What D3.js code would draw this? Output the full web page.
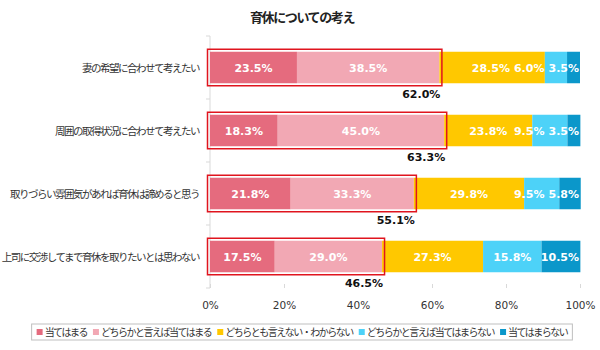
<!DOCTYPE html>
<html>
<head>
<meta charset="utf-8">
<script src="https://cdn.jsdelivr.net/npm/d3@7"></script>
<style>
  body { margin: 0; background: #fff; }
  svg { display: block; }
  .jp { font-family: "Noto Sans CJK JP", sans-serif; }
  .num { font-family: "DejaVu Sans", Verdana, sans-serif; }
</style>
</head>
<body>
<div id="chart"></div>
<script>
// Survey answers, % per statement
const categories = [
  '妻の希望に合わせて考えたい',
  '周囲の取得状況に合わせて考えたい',
  '取りづらい雰囲気があれば育休は諦めると思う',
  '上司に交渉してまで育休を取りたいとは思わない'
];
const seriesNames = [
  '当てはまる',
  'どちらかと言えば当てはまる',
  'どちらとも言えない・わからない',
  'どちらかと言えば当てはまらない',
  '当てはまらない'
];
const values = [
  [23.5, 38.5, 28.5, 6.0, 3.5],
  [18.3, 45.0, 23.8, 9.5, 3.5],
  [21.8, 33.3, 29.8, 9.5, 5.8],
  [17.5, 29.0, 27.3, 15.8, 10.5]
];
const topTwo = [62.0, 63.3, 55.1, 46.5];
const ticks = [0, 20, 40, 60, 80, 100];
const colors = ['#e56b7e', '#f2a8b4', '#ffc800', '#4dd2f8', '#0b97ca'];

const svg = d3.select('#chart').append('svg')
  .attr('width', 600)
  .attr('height', 350);

svg.append('rect').attr('width', 600).attr('height', 350).attr('fill', '#fff');

svg.append('text')
  .attr('class', 'jp')
  .attr('x', 302).attr('y', 22)
  .attr('text-anchor', 'middle')
  .style('font-size', '13px').style('font-weight', 'bold')
  .style('letter-spacing', '-1.4px').attr('fill', '#222')
  .text('育休についての考え');

const x = d3.scaleLinear().domain([0, 100]).range([210, 580]);
const y = d3.scaleBand().domain(categories).range([36, 288])
  .paddingInner(0.5).paddingOuter(0.25);

// left axis: line + ticks on band boundaries
const step = y.step();
const leftAxis = svg.append('g');
leftAxis.append('line')
  .attr('x1', x(0)).attr('x2', x(0)).attr('y1', 36).attr('y2', 288)
  .attr('stroke', '#d9d9d9');
d3.range(categories.length + 1).forEach(i => {
  const yy = 36 + i * step;
  leftAxis.append('line')
    .attr('x1', x(0) - 4).attr('x2', x(0)).attr('y1', yy).attr('y2', yy)
    .attr('stroke', '#d9d9d9');
});

leftAxis.selectAll('.cat')
  .data(categories)
  .enter().append('text')
  .attr('class', 'jp')
  .attr('x', 199)
  .attr('y', d => y(d) + y.bandwidth() / 2 + 4)
  .attr('text-anchor', 'end')
  .style('font-size', '10.5px').style('letter-spacing', '-1.5px').attr('fill', '#333')
  .text(d => d);

// bottom axis
const xAxis = svg.append('g')
  .attr('transform', 'translate(0,288)')
  .call(d3.axisBottom(x).tickValues(ticks).tickSizeInner(-4).tickSizeOuter(0).tickPadding(14)
    .tickFormat(d => d + '%'));
xAxis.select('.domain').remove();
xAxis.selectAll('line').attr('stroke', '#d9d9d9');
xAxis.selectAll('text')
  .attr('class', 'num')
  .style('font-size', '10.5px').attr('fill', '#333');

// stacked bars
values.forEach((row, ri) => {
  const cat = categories[ri];
  const g = svg.append('g');
  let acc = 0;
  const segs = row.map((v, si) => {
    const s = { v, si, x0: acc, x1: acc + v };
    acc += v;
    return s;
  });

  g.selectAll('rect')
    .data(segs)
    .enter().append('rect')
    .attr('x', d => x(d.x0))
    .attr('y', y(cat))
    .attr('width', d => x(d.x1) - x(d.x0))
    .attr('height', y.bandwidth())
    .attr('fill', d => colors[d.si]);

  const labels = g.selectAll('.val')
    .data(segs)
    .enter().append('text')
    .attr('class', 'num')
    .attr('y', y(cat) + y.bandwidth() / 2 + 4)
    .attr('text-anchor', 'start')
    .style('font-size', '11px').style('font-weight', 'bold').attr('fill', '#fff')
    .text(d => d.v.toFixed(1) + '%');

  // place labels centred, pushing left from the bar end when they collide
  const nodes = labels.nodes();
  let limit = x(100) - 1;
  for (let i = nodes.length - 1; i >= 0; i--) {
    const w = nodes[i].getComputedTextLength();
    const c = (x(segs[i].x0) + x(segs[i].x1)) / 2;
    let end = Math.min(c + w / 2, limit);
    nodes[i].setAttribute('x', end - w);
    limit = end - w - 4;
  }

  // red box around top-two
  const pad = 2.5;
  g.append('rect')
    .attr('x', x(0) - pad)
    .attr('y', y(cat) - pad)
    .attr('width', x(topTwo[ri]) - x(0) + pad * 2)
    .attr('height', y.bandwidth() + pad * 2)
    .attr('fill', 'none')
    .attr('stroke', '#e0141e')
    .attr('stroke-width', 1.5);

  g.append('text')
    .attr('class', 'num')
    .attr('x', x(topTwo[ri]) + 1)
    .attr('y', y(cat) + y.bandwidth() + 15)
    .attr('text-anchor', 'end')
    .style('font-size', '11px').style('font-weight', 'bold').attr('fill', '#111')
    .text(topTwo[ri].toFixed(1) + '%');
});

// legend
const legend = svg.append('g');
const box = legend.append('rect')
  .attr('y', 324).attr('height', 16)
  .attr('fill', '#fff').attr('stroke', '#bfbfbf');
let lx = 0;
const gap = 6;
const items = legend.append('g');
seriesNames.forEach((name, i) => {
  items.append('rect')
    .attr('x', lx).attr('y', 329).attr('width', 6).attr('height', 6)
    .attr('fill', colors[i]);
  const t = items.append('text')
    .attr('class', 'jp')
    .attr('x', lx + 8).attr('y', 336)
    .style('font-size', '10px').style('letter-spacing', '-1.5px').attr('fill', '#333')
    .text(name);
  lx += 8 + t.node().getComputedTextLength() + gap;
});
const totalW = lx - gap;
const startX = 302 - totalW / 2;
items.attr('transform', `translate(${startX},0)`);
box.attr('x', startX - 5).attr('width', totalW + 10);
</script>
</body>
</html>
